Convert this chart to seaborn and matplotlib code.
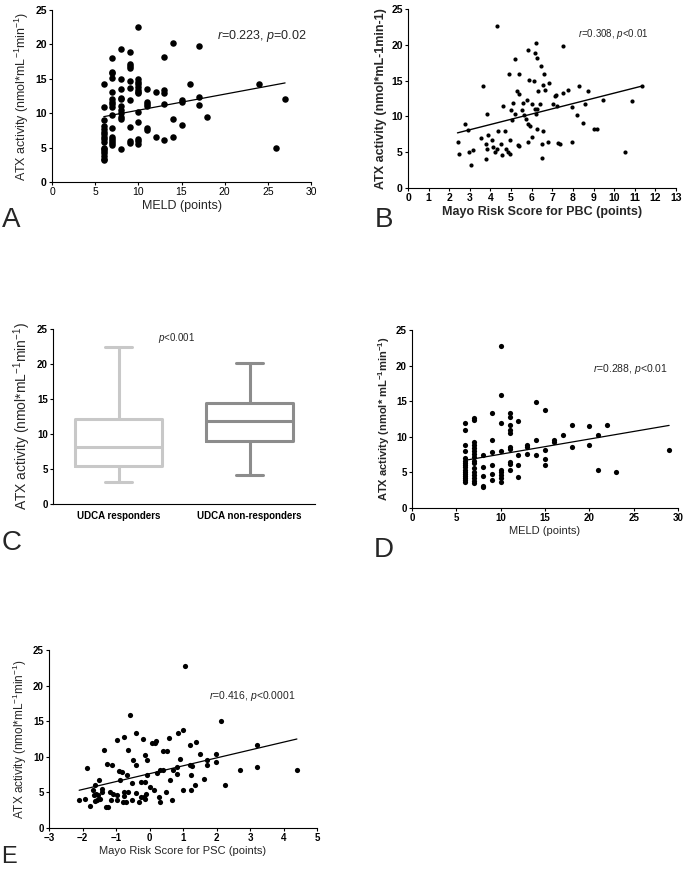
import matplotlib
matplotlib.use("Agg")
import matplotlib.pyplot as plt
import numpy as np
import pandas as pd
import seaborn as sns

# ---------------- data ----------------
# Panel A: PBC, MELD vs ATX activity
meld_a = [6, 6, 6, 6, 6, 6, 6, 6, 6, 6, 6, 6, 6, 6, 6, 6, 6,
          7, 7, 7, 7, 7, 7, 7, 7, 7, 7, 7, 7, 7, 7, 7, 7,
          8, 8, 8, 8, 8, 8, 8, 8, 8, 8, 8,
          9, 9, 9, 9, 9, 9, 9, 9, 9, 9,
          10, 10, 10, 10, 10, 10, 10, 10, 10, 10, 10, 10, 10,
          11, 11, 11, 11, 11, 11,
          12, 12, 13, 13, 13, 13, 13, 14, 14, 14, 15, 15, 15,
          16, 17, 17, 17, 18, 24, 26, 27]
atx_a = [14.3, 10.9, 9.0, 8.2, 7.7, 7.3, 7.0, 6.6, 6.2, 5.8, 5.0, 4.8, 4.5, 4.2, 3.8, 3.4, 3.2,
         18.0, 16.0, 15.8, 15.1, 13.1, 12.0, 11.7, 11.4, 10.9, 9.7, 7.9, 6.6, 6.2, 5.9, 5.6, 5.4,
         19.3, 15.0, 13.5, 12.2, 12.0, 11.0, 10.4, 10.0, 9.5, 9.2, 4.8,
         18.9, 17.2, 16.9, 16.6, 14.7, 13.6, 11.9, 8.0, 5.9, 5.7,
         22.6, 15.0, 14.6, 14.3, 13.8, 13.4, 13.1, 12.9, 10.2, 8.7, 6.2, 5.9, 5.5,
         13.5, 11.7, 11.3, 11.0, 7.9, 7.6,
         13.1, 6.5, 18.1, 13.3, 12.9, 11.3, 6.1, 20.2, 9.1, 6.5, 11.9, 11.6, 8.3,
         14.3, 19.8, 12.3, 11.2, 9.5, 14.2, 5.0, 12.0]
fit_a_x = [6, 27]
fit_a_y = [9.5, 14.4]

# Panel B: Mayo risk score for PBC vs ATX activity
mayo_b = [4.3, 6.23, 7.53, 5.83, 6.18, 5.21, 6.28, 6.44, 4.89, 5.37, 6.61, 5.85, 6.12, 6.83,
          3.64, 6.56, 8.29, 11.33, 5.31, 5.37, 6.31, 6.64, 7.50, 7.74, 8.74, 5.75,
          3.85, 3.53, 3.76, 3.85, 3.76, 3.88, 2.43, 2.46, 2.75, 2.91, 2.95, 3.16, 3.08,
          4.08, 4.13, 4.21, 4.34, 4.37, 4.50, 4.56, 4.60, 4.69, 4.77, 4.86, 4.94, 4.95,
          5.02, 5.06, 5.10, 5.18, 5.34, 5.37, 5.53, 5.58, 5.63, 5.70, 5.80, 5.83, 5.91,
          6.00, 6.03, 6.15, 6.23, 6.28, 6.28, 6.40, 6.56, 6.48, 6.48, 6.80, 7.04, 7.15,
          7.20, 7.25, 7.28, 7.36, 7.97, 7.94, 8.18, 8.50, 8.58, 9.03, 9.15, 9.47, 10.52, 10.85]
atx_b = [22.6, 20.2, 19.8, 19.3, 18.9, 18.0, 18.1, 17.1, 15.9, 15.9, 15.9, 15.1, 15.0, 14.6,
         14.3, 14.4, 14.3, 14.3, 13.5, 13.1, 13.5, 13.7, 13.3, 13.7, 13.5, 12.3,
         10.3, 7.0, 6.2, 5.5, 4.1, 7.4, 6.4, 4.8, 8.9, 8.1, 5.0, 5.3, 3.2,
         6.7, 5.7, 5.0, 5.5, 7.9, 6.2, 4.6, 11.5, 7.9, 5.4, 5.0, 4.7, 6.7,
         10.9, 9.5, 11.9, 10.3, 6.0, 5.8, 10.9, 11.9, 10.2, 9.7, 9.0, 6.4, 8.6,
         7.1, 11.7, 11.1, 10.4, 11.0, 8.3, 11.8, 8.0, 6.2, 4.2, 6.4, 11.7, 12.8,
         13.0, 11.4, 6.3, 6.1, 11.3, 6.4, 10.2, 9.1, 11.8, 8.3, 8.3, 12.3, 5.0, 12.1]
fit_b_x = [2.4, 11.3]
fit_b_y = [7.7, 14.2]

# Panel C: UDCA response (box summary: min, Q1, median, Q3, max)
groups_c = ["UDCA responders", "UDCA non-responders"]
responders_c = [3.1, 5.5, 8.1, 12.1, 22.5]
nonresponders_c = [4.2, 9.0, 11.8, 14.4, 20.2]

# Panel D: PSC, MELD vs ATX activity
meld_d = [6, 6, 6, 6, 6, 6, 6, 6, 6, 6, 6, 6, 6, 6, 6, 6,
          7, 7, 7, 7, 7, 7, 7, 7, 7, 7, 7, 7, 7, 7, 7, 7,
          8, 8, 8, 8, 8,
          9, 9, 9, 9, 9, 9,
          10, 10, 10, 10, 10, 10, 10, 10, 10,
          11, 11, 11, 11, 11, 11, 11, 11, 11, 11,
          12, 12, 12, 12, 13, 13, 13, 14, 14, 14, 15, 15, 15, 15,
          16, 16, 17, 18, 18, 20, 20, 21, 21, 22, 23, 29]
atx_d = [11.9, 10.9, 8.8, 8.0, 7.0, 6.6, 6.3, 6.0, 5.7, 5.4, 5.1, 4.8, 4.5, 4.2, 3.9, 3.7,
         12.7, 12.3, 9.3, 8.9, 8.4, 8.0, 7.6, 7.1, 6.6, 6.3, 5.6, 5.0, 4.6, 4.2, 3.8, 3.5,
         7.4, 5.8, 4.5, 3.1, 2.9,
         13.3, 9.5, 7.8, 6.0, 4.8, 4.0,
         22.7, 15.9, 12.0, 8.0, 5.4, 5.0, 4.6, 4.2, 3.7,
         13.4, 12.8, 11.6, 11.0, 10.5, 8.6, 8.3, 6.4, 6.2, 5.4,
         12.2, 7.4, 6.0, 4.3, 8.8, 8.5, 7.6, 14.9, 9.6, 7.4, 13.8, 8.2, 6.9, 6.1,
         9.5, 9.3, 10.3, 11.6, 8.5, 11.5, 8.8, 10.3, 5.4, 11.6, 5.0, 8.1]
fit_d_x = [6, 29]
fit_d_y = [6.7, 11.6]

# Panel E: Mayo risk score for PSC vs ATX activity
mayo_e = [1.06, -0.57, 2.13, 1.01, 0.84, -0.41, -0.76, -0.97, -0.19, 0.16, 0.06, 0.19, 0.59,
          1.39, 1.20, 3.20, -1.36, -0.64, 0.39, 0.53, -0.12, 1.51, 1.99, -0.49, -0.06, 0.91,
          1.99, -1.86, -1.28, -1.11, -0.39, 1.21, 1.26, 0.81, 0.71, 1.71, 1.71, 2.70, 3.20, 4.40,
          -0.92, -0.81, -0.66, -0.07, 0.21, 0.31, 0.41, 0.81, 1.24, 1.36, 1.64, 2.24,
          -1.50, -1.64, -0.87, -0.51, -0.25, -0.12, 0.01, 0.61, 0.13, 0.48, 1.01, 1.24,
          -1.68, -1.43, -1.41, -1.53, -1.61, -1.66, -1.18, -1.09, -0.98, -0.77, -0.64, -0.39,
          -0.09, -1.48, -1.63, -1.56, -1.78, -2.11, -1.93, -1.30, -1.23, -1.15, -0.98, -0.76,
          -0.79, -0.71, -0.51, -0.31, -0.24, -0.17, -0.12, 0.29, 0.31, 0.66]
atx_e = [22.7, 15.9, 15.0, 13.8, 13.3, 13.4, 12.8, 12.3, 12.5, 11.9, 12.0, 12.2, 12.7,
         12.1, 11.6, 11.6, 10.9, 11.0, 10.8, 10.8, 10.2, 10.4, 10.4, 9.5, 9.5, 9.7,
         9.3, 8.4, 9.0, 8.8, 8.8, 8.9, 8.7, 8.5, 8.1, 9.6, 8.8, 8.2, 8.5, 8.2,
         8.0, 7.9, 7.5, 7.4, 7.7, 8.1, 8.2, 7.6, 7.4, 6.0, 6.9, 6.1,
         6.8, 6.1, 6.7, 6.3, 6.5, 6.5, 5.8, 6.7, 5.3, 5.1, 5.4, 5.4,
         5.4, 5.5, 5.1, 4.6, 4.8, 4.6, 5.1, 4.8, 4.7, 5.0, 5.1, 4.9,
         4.8, 4.1, 3.8, 4.0, 3.1, 4.0, 4.1, 3.0, 2.9, 4.0, 4.0, 4.5,
         3.7, 3.7, 4.0, 3.6, 4.3, 4.4, 4.1, 4.3, 3.6, 4.0]
fit_e_x = [-2.1, 4.4]
fit_e_y = [5.3, 12.5]

# ---------------- style ----------------
sns.set_style("ticks")
plt.rcParams["font.family"] = ["Liberation Sans", "DejaVu Sans"]
plt.rcParams["mathtext.fontset"] = "custom"
plt.rcParams["mathtext.rm"] = "Liberation Sans"
plt.rcParams["mathtext.it"] = "Liberation Sans:italic"
plt.rcParams["mathtext.bf"] = "Liberation Sans:bold"

W, H = 685, 869
fig = plt.figure(figsize=(W / 100, H / 100), dpi=100)


def add_ax(left, right, top, bottom):
    return fig.add_axes([left / W, 1 - bottom / H, (right - left) / W, (bottom - top) / H])


def style(ax, xlim, ylim, xticks, yticks, fs, xbold=True, ybold=True):
    ax.set_xlim(*xlim)
    ax.set_ylim(*ylim)
    if xticks is not None:
        ax.set_xticks(xticks)
    ax.set_yticks(yticks)
    sns.despine(ax=ax)
    for s in ("left", "bottom"):
        ax.spines[s].set_linewidth(0.8)
        ax.spines[s].set_color("black")
    ax.tick_params(length=2.2, width=0.8, pad=1.5, labelsize=fs, colors="black")
    for lbl in ax.get_xticklabels():
        lbl.set_fontweight("bold" if xbold else "normal")
    for lbl in ax.get_yticklabels():
        lbl.set_fontweight("bold" if ybold else "normal")


ylab_sup = "ATX activity (nmol*mL$^{-1}$min$^{-1}$)"

# ---- Panel A ----
axA = add_ax(52, 311, 10, 182)
sns.scatterplot(x=meld_a, y=atx_a, ax=axA, color="black", s=22, linewidth=0)
sns.lineplot(x=fit_a_x, y=fit_a_y, ax=axA, color="black", linewidth=0.9)
style(axA, (0, 30), (0, 25), [0, 5, 10, 15, 20, 25, 30], [0, 5, 10, 15, 20, 25], 7.5,
      xbold=False, ybold=True)
axA.set_xlabel("MELD (points)", fontsize=9, labelpad=2)
axA.set_ylabel(ylab_sup, fontsize=9, labelpad=3)
axA.text(0.637, 0.85, "$r$=0.223, $p$=0.02", transform=axA.transAxes, fontsize=9,
         ha="left", va="center")

# ---- Panel B ----
axB = add_ax(408, 676, 9, 188)
sns.scatterplot(x=mayo_b, y=atx_b, ax=axB, color="black", s=9, linewidth=0)
sns.lineplot(x=fit_b_x, y=fit_b_y, ax=axB, color="black", linewidth=1.0)
style(axB, (0, 13), (0, 25), list(range(0, 14)), [0, 5, 10, 15, 20, 25], 7.5)
axB.set_xlabel("Mayo Risk Score for PBC (points)", fontsize=9, fontweight="bold", labelpad=2)
axB.set_ylabel("ATX activity (nmol*mL-1min-1)", fontsize=9, fontweight="bold", labelpad=3)
axB.text(0.634, 0.86, "$r$=0.308, $p$<0.01", transform=axB.transAxes, fontsize=7,
         ha="left", va="center")

# ---- Panel C ----
axC = add_ax(53, 315, 329, 504)
df_c = pd.DataFrame({
    "group": [groups_c[0]] * len(responders_c) + [groups_c[1]] * len(nonresponders_c),
    "atx": responders_c + nonresponders_c,
})
sns.boxplot(data=df_c, x="group", y="atx", hue="group", order=groups_c, hue_order=groups_c,
            palette=["#c8c8c8", "#8c8c8c"], fill=False, whis=(0, 100), width=0.66,
            linewidth=2.2, legend=False, ax=axC, capwidths=0.2)
style(axC, (-0.5, 1.5), (0, 25), None, [0, 5, 10, 15, 20, 25], 7)
axC.tick_params(axis="x", length=0, pad=5, labelsize=7)
for lbl in axC.get_xticklabels():
    lbl.set_fontweight("bold")
axC.set_xlabel("")
axC.set_ylabel(ylab_sup, fontsize=10, labelpad=3)
axC.text(0.40, 0.95, "$p$<0.001", transform=axC.transAxes, fontsize=7,
         ha="left", va="center")

# ---- Panel D ----
axD = add_ax(412, 678, 330, 508)
sns.scatterplot(x=meld_d, y=atx_d, ax=axD, color="black", s=14, linewidth=0)
sns.lineplot(x=fit_d_x, y=fit_d_y, ax=axD, color="black", linewidth=0.9)
style(axD, (0, 30), (0, 25), [0, 5, 10, 15, 20, 25, 30], [0, 5, 10, 15, 20, 25], 7)
axD.set_xlabel("MELD (points)", fontsize=8, labelpad=2)
axD.set_ylabel(r"ATX activity (nmol* mL$^{\mathbf{-1}}$min$^{\mathbf{-1}}$)", fontsize=8,
               fontweight="bold", labelpad=3)
axD.text(0.68, 0.78, "$r$=0.288, $p$<0.01", transform=axD.transAxes, fontsize=7.5,
         ha="left", va="center")

# ---- Panel E ----
axE = add_ax(49, 317, 650, 828)
sns.scatterplot(x=mayo_e, y=atx_e, ax=axE, color="black", s=14, linewidth=0)
sns.lineplot(x=fit_e_x, y=fit_e_y, ax=axE, color="black", linewidth=0.9)
style(axE, (-3, 5), (0, 25), [-3, -2, -1, 0, 1, 2, 3, 4, 5], [0, 5, 10, 15, 20, 25], 7)
axE.set_xlabel("Mayo Risk Score for PSC (points)", fontsize=8, labelpad=2)
axE.set_ylabel(ylab_sup, fontsize=8.5, labelpad=3)
axE.text(0.597, 0.742, "$r$=0.416, $p$<0.0001", transform=axE.transAxes, fontsize=7.5,
         ha="left", va="center")

# ---- panel letters ----
for letter, px, py, fs in [("A", 2, 227, 20), ("B", 375, 227, 20), ("C", 2, 550, 20),
                           ("D", 374, 557, 20), ("E", 1, 863, 17)]:
    fig.text(px / W, 1 - py / H, letter, fontsize=fs, ha="left", va="baseline")

fig.savefig("out.png", dpi=100)
